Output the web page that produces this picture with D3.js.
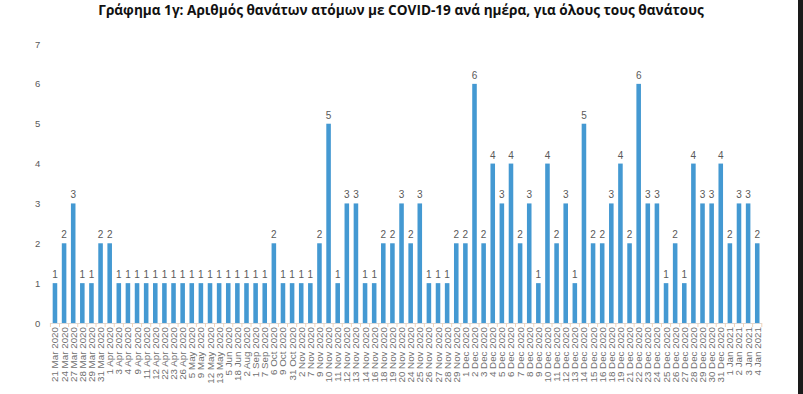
<!DOCTYPE html>
<html>
<head>
<meta charset="utf-8">
<script src="https://cdn.jsdelivr.net/npm/d3@7"></script>
<style>
    body { margin: 0; background: #fff; }
    svg { display: block; }
</style>
</head>
<body>
<div id="chart"></div>
<script>
const title = "Γράφημα 1γ: Αριθμός θανάτων ατόμων με COVID-19 ανά ημέρα, για όλους τους θανάτους"

const dates = [
    "21 Mar 2020", "24 Mar 2020", "27 Mar 2020", "28 Mar 2020", "29 Mar 2020", "31 Mar 2020",
    "1 Apr 2020", "3 Apr 2020", "4 Apr 2020", "9 Apr 2020", "11 Apr 2020", "12 Apr 2020",
    "22 Apr 2020", "23 Apr 2020", "26 Apr 2020", "5 May 2020", "9 May 2020", "12 May 2020",
    "13 May 2020", "5 Jun 2020", "18 Jun 2020", "2 Aug 2020", "1 Sep 2020", "7 Sep 2020",
    "6 Oct 2020", "9 Oct 2020", "31 Oct 2020", "2 Nov 2020", "7 Nov 2020", "9 Nov 2020",
    "10 Nov 2020", "11 Nov 2020", "12 Nov 2020", "13 Nov 2020", "14 Nov 2020", "16 Nov 2020",
    "18 Nov 2020", "19 Nov 2020", "20 Nov 2020", "24 Nov 2020", "25 Nov 2020", "26 Nov 2020",
    "27 Nov 2020", "28 Nov 2020", "29 Nov 2020", "1 Dec 2020", "2 Dec 2020", "3 Dec 2020",
    "4 Dec 2020", "5 Dec 2020", "6 Dec 2020", "7 Dec 2020", "8 Dec 2020", "9 Dec 2020",
    "10 Dec 2020", "11 Dec 2020", "12 Dec 2020", "13 Dec 2020", "14 Dec 2020", "15 Dec 2020",
    "16 Dec 2020", "18 Dec 2020", "19 Dec 2020", "21 Dec 2020", "22 Dec 2020", "23 Dec 2020",
    "24 Dec 2020", "25 Dec 2020", "26 Dec 2020", "27 Dec 2020", "28 Dec 2020", "29 Dec 2020",
    "30 Dec 2020", "31 Dec 2020", "1 Jan 2021", "2 Jan 2021", "3 Jan 2021", "4 Jan 2021"
]

const deaths = [
    1, 2, 3, 1, 1, 2,
    2, 1, 1, 1, 1, 1,
    1, 1, 1, 1, 1, 1,
    1, 1, 1, 1, 1, 1,
    2, 1, 1, 1, 1, 2,
    5, 1, 3, 3, 1, 1,
    2, 2, 3, 2, 3, 1,
    1, 1, 2, 2, 6, 2,
    4, 3, 4, 2, 3, 1,
    4, 2, 3, 1, 5, 2,
    2, 3, 4, 2, 6, 3,
    3, 1, 2, 1, 4, 3,
    3, 4, 2, 3, 3, 2
]

const yTicks = [0, 1, 2, 3, 4, 5, 6, 7]

const width = 803
const height = 394
const margin = { top: 44, left: 50.4, right: 41.2, bottom: 71 }
const barColor = "#4499d2"
const textColor = "#595959"

const svg = d3.select("#chart")
    .append("svg")
    .attr("width", width)
    .attr("height", height)

svg.append("text")
    .attr("x", 401)
    .attr("y", 15)
    .attr("text-anchor", "middle")
    .attr("font-family", "Open Sans")
    .attr("font-weight", "bold")
    .attr("font-size", 13.6)
    .attr("fill", "#111")
    .text(title)

const x = d3.scaleBand()
    .domain(dates)
    .range([margin.left, width - margin.right])
    .paddingInner(0.5)
    .paddingOuter(0.25)

const y = d3.scaleLinear()
    .domain([0, 7])
    .range([height - margin.bottom, margin.top])

// y axis labels only, no line
const yAxis = svg.append("g")
    .attr("transform", `translate(${margin.left - 10},0)`)
    .call(d3.axisLeft(y).tickValues(yTicks).tickFormat(d3.format("d")).tickSize(0).tickPadding(0))
yAxis.select(".domain").remove()
yAxis.selectAll("text")
    .attr("font-family", "Liberation Sans")
    .attr("font-size", 9.5)
    .attr("fill", textColor)

svg.append("g")
    .selectAll("rect")
    .data(deaths)
    .join("rect")
    .attr("x", (d, i) => x(dates[i]))
    .attr("y", d => y(d))
    .attr("width", x.bandwidth())
    .attr("height", d => y(0) - y(d))
    .attr("fill", barColor)

svg.append("g")
    .selectAll("text")
    .data(deaths)
    .join("text")
    .attr("x", (d, i) => x(dates[i]) + x.bandwidth() / 2)
    .attr("y", d => y(d) - 5)
    .attr("text-anchor", "middle")
    .attr("font-family", "Liberation Sans")
    .attr("font-size", 10)
    .attr("fill", textColor)
    .text(d => d)

// x axis: line, ticks between categories, rotated date labels
const base = y(0)
const step = x.step()
const edges = d3.range(dates.length + 1).map(i => margin.left + i * step)

svg.append("line")
    .attr("x1", margin.left)
    .attr("x2", width - margin.right)
    .attr("y1", base + 0.5)
    .attr("y2", base + 0.5)
    .attr("stroke", "#d9d9d9")

svg.append("g")
    .selectAll("line")
    .data(edges)
    .join("line")
    .attr("x1", d => d)
    .attr("x2", d => d)
    .attr("y1", base)
    .attr("y2", base + 4)
    .attr("stroke", "#f2d3b8")

svg.append("g")
    .selectAll("text")
    .data(dates)
    .join("text")
    .attr("transform", d => `translate(${x(d) + x.bandwidth() / 2 + 3.5},${base + 4}) rotate(-90)`)
    .attr("text-anchor", "end")
    .attr("font-family", "Liberation Sans")
    .attr("font-size", 9.8)
    .attr("fill", "#707070")
    .text(d => d)

// dark strip at the right edge of the screenshot
svg.append("rect")
    .attr("x", 798)
    .attr("y", 0)
    .attr("width", 5)
    .attr("height", height)
    .attr("fill", "#1a1a1a")
</script>
</body>
</html>
